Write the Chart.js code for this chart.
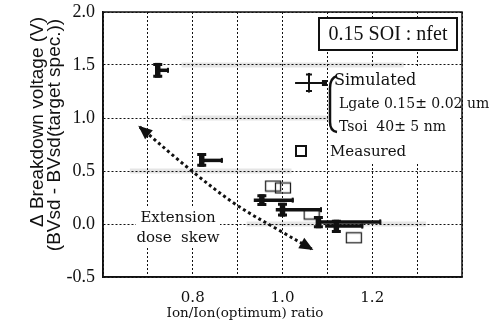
<!DOCTYPE html>
<html>
<head>
<meta charset="utf-8">
<script src="https://cdn.jsdelivr.net/npm/chart.js@4.4.1/dist/chart.umd.min.js"></script>
<style>
  html,body{margin:0;padding:0;background:#fff;}
</style>
</head>
<body>
<canvas id="chart" width="498" height="335"></canvas>
<script>
// simulated points: centre and error extents
var simX    = [0.722, 0.820, 0.954, 1.000, 1.080, 1.120];
var simY    = [1.45,  0.60,  0.225, 0.135, 0.020, -0.020];
var simXMin = [0.722, 0.820, 0.936, 0.985, 1.077, 1.095];
var simXMax = [0.747, 0.867, 1.025, 1.088, 1.220, 1.180];
var simYMin = [1.38,  0.54,  0.17,  0.07, -0.04, -0.085];
var simYMax = [1.52,  0.67,  0.28,  0.20,  0.075, 0.04];

// measured points
var measX = [0.979, 1.001, 1.065, 1.159];
var measY = [0.358, 0.340, 0.094, -0.130];

// legend sample cross (spread of simulation)
var keyX = [1.059], keyY = [1.33];
var keyXMin = [1.028], keyXMax = [1.099];
var keyYMin = [1.24],  keyYMax = [1.425];

// dotted arrow "extension dose skew"
var skewX = [0.682, 0.798, 0.898, 0.999, 1.065];
var skewY = [0.915, 0.500, 0.179, -0.075, -0.236];

var xTickLabels = ['0.8', '1.0', '1.2'];
var yTickLabels = ['-0.5', '0.0', '0.5', '1.0', '1.5', '2.0'];

function pts(xs, ys){
  return xs.map(function(x, i){ return {x: x, y: ys[i]}; });
}
function bars(xs, ys, x0, x1, y0, y1){
  return xs.map(function(x, i){
    return {x: x, y: ys[i], xMin: x0[i], xMax: x1[i], yMin: y0[i], yMax: y1[i]};
  });
}

// open rectangle marker for measured data
var box = document.createElement('canvas');
box.width = 18; box.height = 13;
(function(){
  var g = box.getContext('2d');
  g.strokeStyle = '#222';
  g.lineWidth = 1.3;
  g.strokeRect(1.5, 1.5, 15, 10);
})();

var SERIF = '"DejaVu Serif", serif';

var decor = {
  id: 'decor',
  beforeDatasetsDraw: function(chart){
    var ctx = chart.ctx, xs = chart.scales.x, ys = chart.scales.y;
    ctx.save();
    // faint scan shading along some grid lines
    ctx.strokeStyle = 'rgba(0,0,0,0.10)';
    ctx.lineWidth = 5;
    [[1.5, 0.775, 1.27], [1.0, 0.775, 1.26], [0.5, 0.66, 1.02], [0.0, 0.92, 1.32]].forEach(function(b){
      var y = ys.getPixelForValue(b[0]);
      ctx.beginPath();
      ctx.moveTo(xs.getPixelForValue(b[1]), y);
      ctx.lineTo(xs.getPixelForValue(b[2]), y);
      ctx.stroke();
    });
    // white patches behind the text blocks
    ctx.fillStyle = '#fff';
    ctx.fillRect(328, 68, 132, 94);
    ctx.fillRect(136, 207, 84, 40);
    ctx.restore();
  },
  afterDatasetsDraw: function(chart){
    var ctx = chart.ctx, xs = chart.scales.x, ys = chart.scales.y;
    ctx.save();
    ctx.strokeStyle = '#111';
    ctx.fillStyle = '#111';
    ctx.lineCap = 'butt';

    // error bars
    chart.data.datasets.forEach(function(ds){
      if (!ds.errorBars) return;
      var thick = ds.errorBars === 'thick';
      ds.data.forEach(function(p){
        var cx = xs.getPixelForValue(p.x), cy = ys.getPixelForValue(p.y);
        var l = xs.getPixelForValue(p.xMin), r = xs.getPixelForValue(p.xMax);
        var t = ys.getPixelForValue(p.yMax), b = ys.getPixelForValue(p.yMin);
        // horizontal
        ctx.lineWidth = thick ? 3.5 : 2;
        ctx.beginPath(); ctx.moveTo(l, cy); ctx.lineTo(r, cy); ctx.stroke();
        ctx.lineWidth = thick ? 2 : 1.5;
        ctx.beginPath();
        ctx.moveTo(r - 1, cy - 2.5); ctx.lineTo(r - 1, cy + 2.5);
        ctx.stroke();
        // vertical
        ctx.lineWidth = thick ? 5.5 : 2;
        ctx.beginPath(); ctx.moveTo(cx, t); ctx.lineTo(cx, b); ctx.stroke();
        ctx.lineWidth = thick ? 3 : 2;
        var cw = thick ? 4.5 : 3;
        ctx.beginPath();
        ctx.moveTo(cx - cw, t + 1.5); ctx.lineTo(cx + cw, t + 1.5);
        ctx.moveTo(cx - cw, b - 1.5); ctx.lineTo(cx + cw, b - 1.5);
        ctx.stroke();
        if (!thick) ctx.fillRect(r - 5, cy - 3, 5, 6);
      });
    });

    // arrow heads on the dotted skew line
    var meta = chart.getDatasetMeta(0).data;
    function head(a, b){
      var ang = Math.atan2(b.y - a.y, b.x - a.x);
      ctx.save();
      ctx.translate(b.x, b.y);
      ctx.rotate(ang);
      ctx.beginPath();
      ctx.moveTo(2, 0); ctx.lineTo(-12, -6); ctx.lineTo(-12, 6);
      ctx.closePath(); ctx.fill();
      ctx.restore();
    }
    head(meta[1], meta[0]);
    head(meta[meta.length - 2], meta[meta.length - 1]);
    ctx.restore();
  },
  afterDraw: function(chart){
    var ctx = chart.ctx, a = chart.chartArea;
    ctx.save();
    // frame
    ctx.strokeStyle = '#111';
    ctx.lineWidth = 1.5;
    ctx.strokeRect(a.left, a.top, a.right - a.left, a.bottom - a.top);

    // title box
    ctx.fillStyle = '#fff';
    ctx.fillRect(319, 18, 138, 32);
    ctx.lineWidth = 2;
    ctx.strokeRect(319, 18, 138, 32);
    ctx.fillStyle = '#111';
    ctx.font = '20px "Liberation Serif", serif';
    ctx.textAlign = 'center';
    ctx.textBaseline = 'middle';
    ctx.fillText('0.15 SOI : nfet', 388, 35);

    // legend texts
    ctx.textAlign = 'left';
    ctx.font = '16px ' + SERIF;
    ctx.fillText('Simulated', 334, 81);
    ctx.font = '14px ' + SERIF;
    ctx.fillText('Lgate 0.15\u00b1 0.02 um', 339, 104);
    ctx.fillText('Tsoi  40\u00b1 5 nm', 339, 127);
    ctx.font = '15px ' + SERIF;
    ctx.fillText('Measured', 330, 152);
    ctx.lineWidth = 2;
    ctx.strokeRect(296, 146, 10, 10);

    // curly bracket
    ctx.lineWidth = 2.5;
    ctx.beginPath();
    ctx.moveTo(337, 76);
    ctx.quadraticCurveTo(330, 78, 330, 88);
    ctx.lineTo(330, 122);
    ctx.quadraticCurveTo(330, 131, 337, 132);
    ctx.stroke();

    // annotation
    ctx.textAlign = 'center';
    ctx.font = '15px ' + SERIF;
    ctx.fillText('Extension', 178, 218);
    ctx.fillText('dose  skew', 178, 238);

    // axis titles
    ctx.font = '13.5px ' + SERIF;
    ctx.fillText('Ion/Ion(optimum) ratio', 245, 313);
    ctx.font = '19px "Liberation Sans", Arial, sans-serif';
    ctx.save();
    ctx.translate(38, 122);
    ctx.rotate(-Math.PI / 2);
    ctx.fillText('\u0394 Breakdown voltage (V)', 0, 0);
    ctx.restore();
    ctx.save();
    ctx.translate(55, 135);
    ctx.rotate(-Math.PI / 2);
    ctx.fillText('(BVsd - BVsd(target spec.))', 0, 0);
    ctx.restore();
    ctx.restore();
  }
};

new Chart(document.getElementById('chart'), {
  type: 'scatter',
  data: {
    datasets: [{
      label: 'skew',
      type: 'line',
      data: pts(skewX, skewY),
      borderColor: '#111',
      borderWidth: 3,
      borderDash: [3, 3],
      tension: 0.35,
      pointRadius: 0,
      fill: false
    }, {
      label: 'Measured',
      data: pts(measX, measY),
      pointStyle: box,
      pointRadius: 8
    }, {
      label: 'Simulated',
      data: bars(simX, simY, simXMin, simXMax, simYMin, simYMax),
      errorBars: 'thick',
      pointRadius: 0
    }, {
      label: 'key',
      data: bars(keyX, keyY, keyXMin, keyXMax, keyYMin, keyYMax),
      errorBars: 'thin',
      pointRadius: 0
    }]
  },
  options: {
    responsive: false,
    animation: false,
    devicePixelRatio: 1,
    layout: {padding: {top: 12, right: 36, left: 0, bottom: 0}},
    plugins: {legend: {display: false}, tooltip: {enabled: false}},
    scales: {
      x: {
        type: 'linear',
        min: 0.6, max: 1.4,
        afterFit: function(s){ s.height = 58; s.paddingLeft = 0; s.paddingRight = 0; },
        ticks: {
          stepSize: 0.1,
          padding: 12,
          color: '#111',
          font: {family: SERIF, size: 15},
          callback: function(v){
            var s = v.toFixed(1);
            return xTickLabels.indexOf(s) >= 0 ? s : '';
          }
        },
        grid: {color: '#111', lineWidth: 1, drawTicks: false},
        border: {display: true, color: '#111', width: 1.5, dash: [2, 2]}
      },
      y: {
        min: -0.5, max: 2.0,
        afterFit: function(s){ s.width = 103; s.paddingTop = 0; s.paddingBottom = 0; },
        ticks: {
          stepSize: 0.5,
          padding: 8,
          color: '#111',
          font: {family: '"Liberation Serif", serif', size: 18},
          callback: function(v){
            var s = v.toFixed(1);
            return yTickLabels.indexOf(s) >= 0 ? s : '';
          }
        },
        grid: {color: '#111', lineWidth: 1, drawTicks: false},
        border: {display: true, color: '#111', width: 1.5, dash: [2, 2]}
      }
    }
  },
  plugins: [decor]
});
</script>
</body>
</html>
